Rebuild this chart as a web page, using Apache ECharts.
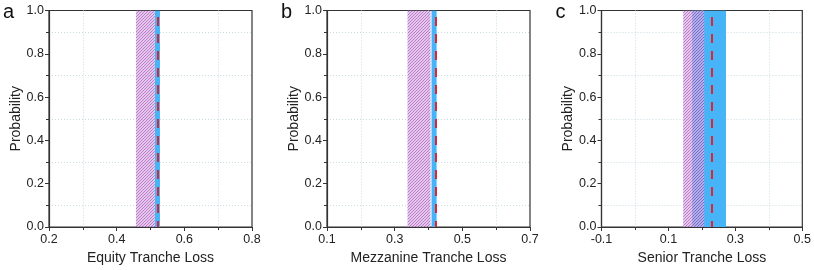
<!DOCTYPE html>
<html><head><meta charset="utf-8">
<script src="https://cdn.jsdelivr.net/npm/echarts@6/dist/echarts.min.js"></script>
<style>html,body{margin:0;padding:0;background:#fff}#c{width:814px;height:270px}</style>
</head><body><div id="c"></div>
<script>
const panelLetters = ['a', 'b', 'c'];
const xTitles = ['Equity Tranche Loss', 'Mezzanine Tranche Loss', 'Senior Tranche Loss'];
const xMins = [0.2, 0.1, -0.1];
const xMaxs = [0.8, 0.7, 0.5];
const xInterval = 0.2;
const yTicks = [0, 0.2, 0.4, 0.6, 0.8, 1.0];
const hatchRanges = [[0.457, 0.513], [0.338, 0.406], [0.144, 0.207]];
const blueRanges = [[0.513, 0.528], [0.409, 0.424], [0.171, 0.272]];
const dashedX = [0.522, 0.418, 0.229];

function makePattern(base, line) {
  const cv = document.createElement('canvas');
  cv.width = 3; cv.height = 3;
  const ctx = cv.getContext('2d');
  ctx.fillStyle = base; ctx.fillRect(0, 0, 3, 3);
  ctx.fillStyle = line;
  ctx.fillRect(2, 0, 1, 1);
  ctx.fillRect(1, 1, 1, 1);
  ctx.fillRect(0, 2, 1, 1);
  return { image: cv, repeat: 'repeat' };
}
const hatch = makePattern('#dcaee6', '#9a4cb4');

const lefts = [49, 327, 601.5];
const gridW = 203, gridTop = 10.5, gridH = 218;
const fontFam = '"Liberation Sans", Arial, sans-serif';

const grids = [], xAxes = [], yAxes = [], series = [], graphics = [];
for (let i = 0; i < 3; i++) {
  grids.push({ left: lefts[i], top: gridTop, width: gridW, height: gridH, show: true, borderColor: '#333', borderWidth: 1.2, backgroundColor: 'transparent', containLabel: false });
  xAxes.push({
    gridIndex: i, type: 'value', min: xMins[i], max: xMaxs[i], interval: xInterval,
    name: xTitles[i], nameLocation: 'middle', nameGap: 24,
    nameTextStyle: { fontFamily: fontFam, fontSize: 14, color: '#222' },
    axisLine: { show: true, onZero: false, lineStyle: { color: '#333', width: 1.2 } },
    axisTick: { show: true, length: 4, lineStyle: { color: '#333' } },
    minorTick: { show: true, splitNumber: 2, length: 3, lineStyle: { color: '#333' } },
    axisLabel: { fontFamily: fontFam, fontSize: 12.5, color: '#222', margin: 6, formatter: v => (Math.abs(v) < 1e-9 ? 0 : v).toFixed(1) },
    splitLine: { show: false },
    minorSplitLine: { show: true, lineStyle: { color: '#c9dde0', type: [1, 2], width: 1 } }
  });
  yAxes.push({
    gridIndex: i, type: 'value', min: yTicks[0], max: yTicks[yTicks.length - 1], interval: yTicks[1] - yTicks[0],
    name: 'Probability', nameLocation: 'middle', nameGap: 25,
    nameTextStyle: { fontFamily: fontFam, fontSize: 14, color: '#222' },
    axisLine: { show: true, onZero: false, lineStyle: { color: '#333', width: 1.2 } },
    axisTick: { show: true, length: 4, lineStyle: { color: '#333' } },
    minorTick: { show: true, splitNumber: 2, length: 3, lineStyle: { color: '#333' } },
    axisLabel: { fontFamily: fontFam, fontSize: 12.5, color: '#222', margin: 5, formatter: v => v.toFixed(1) },
    splitLine: { show: false },
    minorSplitLine: { show: true, lineStyle: { color: '#c9dde0', type: [1, 2], width: 1 } }
  });
  const bandRender = (fill, opacity) => function (params, api) {
    const p0 = api.coord([api.value(0), yTicks[yTicks.length - 1]]);
    const p1 = api.coord([api.value(1), yTicks[0]]);
    return { type: 'rect', shape: { x: p0[0], y: p0[1], width: p1[0] - p0[0], height: p1[1] - p0[1] }, style: { fill: fill, opacity: opacity } };
  };
  series.push({
    type: 'custom', xAxisIndex: i, yAxisIndex: i, silent: true, clip: true,
    data: [blueRanges[i]], encode: { x: [0, 1] },
    renderItem: bandRender('#48b4f8', 1), z: 2
  });
  series.push({
    type: 'custom', xAxisIndex: i, yAxisIndex: i, silent: true, clip: true,
    data: [hatchRanges[i]], encode: { x: [0, 1] },
    renderItem: bandRender(hatch, 0.7), z: 3
  });
  series.push({
    type: 'line', xAxisIndex: i, yAxisIndex: i, data: [], silent: true, z: 4,
    markLine: { silent: true, symbol: 'none', label: { show: false },
      lineStyle: { color: '#e02532', width: 2, type: [9, 8], dashOffset: 3 },
      data: [{ xAxis: dashedX[i] }] }
  });
  graphics.push({ type: 'text', left: lefts[i] - 46, top: 2, style: { text: panelLetters[i], fontFamily: fontFam, fontSize: 20, fill: '#111' } });
}

const chart = echarts.init(document.getElementById('c'), null, { renderer: 'canvas' });
chart.setOption({
  animation: false, backgroundColor: '#fff',
  grid: grids, xAxis: xAxes, yAxis: yAxes, series: series, graphic: graphics
});
</script></body></html>
